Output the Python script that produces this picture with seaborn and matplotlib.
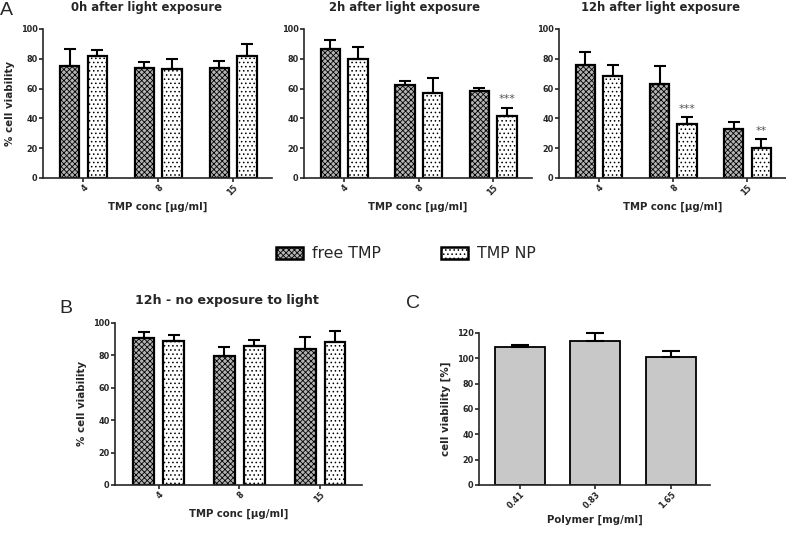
import numpy as np
import pandas as pd
import matplotlib
matplotlib.use("Agg")
import matplotlib.pyplot as plt
from matplotlib.patches import Patch
import seaborn as sns

# categories
conc = ["4", "8", "15"]
forms = ["free TMP", "TMP NP"]

# % cell viability (mean) and SD
free_0h = [75, 74, 74]
free_0h_sd = [11.8, 3.9, 4.3]
np_0h = [82, 73, 81.7]
np_0h_sd = [3.7, 6.6, 8.3]

free_2h = [86.6, 62.6, 58.2]
free_2h_sd = [6.2, 2.3, 2.4]
np_2h = [80, 57, 41.4]
np_2h_sd = [7.7, 10.1, 5.8]
stars_2h = ["", "", "***"]

free_12h = [75.6, 63, 32.9]
free_12h_sd = [8.7, 12.2, 4.7]
np_12h = [68.7, 36.2, 19.9]
np_12h_sd = [7.3, 4.5, 6.1]
stars_12h = ["", "***", "**"]

free_dark = [90.7, 79.6, 84.1]
free_dark_sd = [3.7, 5.8, 7.2]
np_dark = [88.7, 85.8, 88]
np_dark_sd = [3.7, 3.9, 7]

polymer = ["0.41", "0.83", "1.65"]
polymer_via = [109, 113.6, 101]
polymer_sd = [1.2, 6.1, 4.8]

face = {"free TMP": "#b4b4b4", "TMP NP": "white"}
hatches = ["xxxxxx", "...."]

sns.set_style("ticks")
plt.rcParams["font.family"] = ["DejaVu Sans"]
plt.rcParams["hatch.linewidth"] = 0.6
plt.rcParams["axes.linewidth"] = 1.2

TICK_SIZE = 5.9


def style_axes(ax, ylim, yticks, xlabels):
    ax.set_ylim(*ylim)
    ax.set_yticks(list(yticks))
    ax.set_yticklabels([str(t) for t in yticks], fontsize=TICK_SIZE,
                       fontweight="bold")
    ax.set_xticks(range(len(xlabels)))
    ax.set_xticklabels(xlabels, fontsize=TICK_SIZE, fontweight="bold",
                       rotation=45, ha="right", rotation_mode="anchor")
    ax.set_xlim(-0.54, 2.52)
    sns.despine(ax=ax)
    ax.tick_params(axis="both", direction="out", length=2.6, width=1.2,
                   pad=1.2, labelsize=TICK_SIZE)


def tmp_panel(ax, free, free_sd, nano, nano_sd, title, tx, pad, tsize, stars=None):
    df = pd.DataFrame({
        "conc": conc * 2,
        "form": [forms[0]] * 3 + [forms[1]] * 3,
        "via": free + nano,
        "sd": free_sd + nano_sd,
    })
    sns.barplot(data=df, x="conc", y="via", hue="form", hue_order=forms,
                order=conc, palette=face, width=0.74, gap=0.3, errorbar=None,
                legend=False, edgecolor="black", linewidth=1.6, saturation=1,
                ax=ax)
    for cont, form, hatch in zip(ax.containers, forms, hatches):
        sub = df[df["form"] == form]
        xs = [b.get_x() + b.get_width() / 2 for b in cont]
        for b in cont:
            b.set_hatch(hatch)
        ax.errorbar(xs, sub["via"], yerr=[np.zeros(len(sub)), sub["sd"]],
                    fmt="none", ecolor="black", elinewidth=1.5, capsize=4.5,
                    capthick=1.5, clip_on=False)
        if stars is not None and form == forms[1]:
            for x, v, s, st in zip(xs, sub["via"], sub["sd"], stars):
                if st:
                    ax.text(x, v + s + 5.5, st, ha="center", va="center",
                            fontsize=8, color="#555555")
    style_axes(ax, (0, 100), range(0, 101, 20), conc)
    ax.set_title(title, x=tx, pad=pad, fontsize=tsize, fontweight="bold")
    ax.set_xlabel("TMP conc [\u03bcg/ml]", fontsize=7.3, fontweight="bold",
                  labelpad=3)
    ax.set_ylabel("% cell viability", fontsize=7.4, fontweight="bold",
                  labelpad=4)


fig = plt.figure(figsize=(7.86, 5.34), dpi=100)

ax1 = fig.add_axes([43 / 786, 1 - 178 / 534, 229 / 786, 149 / 534])
ax2 = fig.add_axes([304 / 786, 1 - 178 / 534, 228 / 786, 149 / 534])
ax3 = fig.add_axes([559 / 786, 1 - 178 / 534, 227 / 786, 149 / 534])
ax4 = fig.add_axes([115 / 786, 1 - 485 / 534, 247 / 786, 162 / 534])
ax5 = fig.add_axes([479 / 786, 1 - 485 / 534, 231 / 786, 152 / 534])

tmp_panel(ax1, free_0h, free_0h_sd, np_0h, np_0h_sd,
          "0h after light exposure", 0.45, 13, 8.4)
tmp_panel(ax2, free_2h, free_2h_sd, np_2h, np_2h_sd,
          "2h after light exposure", 0.44, 13, 8.4, stars_2h)
tmp_panel(ax3, free_12h, free_12h_sd, np_12h, np_12h_sd,
          "12h after light exposure", 0.445, 13, 8.4, stars_12h)
ax2.set_ylabel("")
ax3.set_ylabel("")
tmp_panel(ax4, free_dark, free_dark_sd, np_dark, np_dark_sd,
          "12h - no exposure to light", 0.455, 14, 9.1)

# panel C: polymer alone
dfc = pd.DataFrame({"polymer": polymer, "via": polymer_via, "sd": polymer_sd})
sns.barplot(data=dfc, x="polymer", y="via", order=polymer, color="#c8c8c8",
            saturation=1, width=0.66, errorbar=None, edgecolor="black",
            linewidth=1.3, ax=ax5)
xs = [b.get_x() + b.get_width() / 2 for b in ax5.containers[0]]
ax5.errorbar(xs, dfc["via"], yerr=[np.zeros(len(dfc)), dfc["sd"]], fmt="none",
             ecolor="black", elinewidth=1.5, capsize=6.5, capthick=1.5,
             clip_on=False)
style_axes(ax5, (0, 120), range(0, 121, 20), polymer)
ax5.set_xlabel("Polymer [mg/ml]", fontsize=7.3, fontweight="bold", labelpad=3)
ax5.set_ylabel("cell viability [%]", fontsize=7.4, fontweight="bold",
               labelpad=4)

# shared legend
handles = [Patch(facecolor=face[f], hatch=h, edgecolor="black", linewidth=1.8,
                 label=f) for f, h in zip(forms, hatches)]
fig.legend(handles=handles, loc="center", bbox_to_anchor=(406 / 786, 1 - 254 / 534),
           ncol=2, frameon=False, fontsize=11.3, handlelength=1.7,
           handleheight=0.8, handletextpad=0.6, columnspacing=3.8)

# panel letters
fig.text(0.0, 1 - 2 / 534, "A", fontsize=14, va="top", ha="left",
         family="Liberation Sans")
fig.text(59 / 786, 1 - 300 / 534, "B", fontsize=14, va="top", ha="left",
         family="Liberation Sans")
fig.text(406 / 786, 1 - 295 / 534, "C", fontsize=14, va="top", ha="left",
         family="Liberation Sans")

fig.savefig("out.png", dpi=100)
